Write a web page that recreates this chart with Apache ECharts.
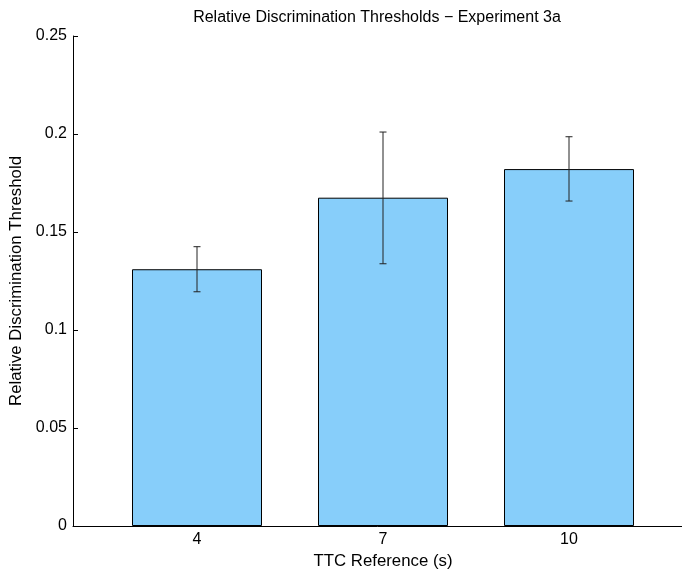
<!DOCTYPE html>
<html><head><meta charset="utf-8">
<script src="https://cdn.jsdelivr.net/npm/echarts@6/dist/echarts.min.js"></script>
<style>html,body{margin:0;padding:0;background:#fff}#c{width:682px;height:569px}</style>
</head><body><div id="c"></div>
<script>
const categories = ['4', '7', '10'];
const thresholds = [0.131, 0.1675, 0.1821];
const errLow = [0.1195, 0.1338, 0.1658];
const errHigh = [0.1425, 0.201, 0.1986];
const yTicks = [0, 0.05, 0.1, 0.15, 0.2, 0.25];

const chart = echarts.init(document.getElementById('c'), null, {renderer: 'canvas'});
const font = 'Liberation Sans, Arial, Helvetica, sans-serif';
const barData = categories.map((c, i) => [i + 1, thresholds[i]]);
const errData = categories.map((c, i) => [i + 1, errLow[i], errHigh[i]]);

chart.setOption({
  animation: false,
  title: {
    text: 'Relative Discrimination Thresholds \u2212 Experiment 3a',
    left: 377, top: 10, padding: 0, textAlign: 'center',
    textStyle: {fontFamily: font, fontWeight: 'normal', fontSize: 16, color: '#000'}
  },
  grid: {left: 73, top: 36, width: 620, height: 490, containLabel: false, outerBoundsMode: 'none'},
  xAxis: {
    type: 'value', min: 1/3, max: 11/3,
    name: 'TTC Reference (s)', nameLocation: 'middle', nameGap: 21,
    nameTextStyle: {fontFamily: font, fontSize: 16.8, color: '#000'},
    axisLine: {show: true, lineStyle: {color: '#000', width: 1}},
    axisTick: {show: false},
    splitLine: {show: false},
    axisLabel: {
      fontFamily: font, fontSize: 16, color: '#000', margin: 6,
      customValues: [1, 2, 3],
      formatter: v => categories[Math.round(v) - 1] || ''
    }
  },
  yAxis: {
    type: 'value', min: 0, max: 0.25, interval: 0.05,
    name: 'Relative Discrimination Threshold', nameLocation: 'middle', nameGap: 45,
    nameTextStyle: {fontFamily: font, fontSize: 16.8, color: '#000'},
    axisLine: {show: true, lineStyle: {color: '#000', width: 1}},
    axisTick: {show: true, inside: true, length: 5, lineStyle: {color: '#000'}},
    splitLine: {show: false},
    axisLabel: {fontFamily: font, fontSize: 16, color: '#000', margin: 6,
      customValues: yTicks,
      formatter: v => String(+v.toFixed(2))}
  },
  series: [
    {
      type: 'bar', data: barData, barWidth: 130,
      itemStyle: {color: '#87cefa', borderColor: '#000', borderWidth: 1}
    },
    {
      type: 'custom', data: errData, z: 10,
      renderItem: function (params, api) {
        const x = api.value(0);
        const lo = api.coord([x, api.value(1)]);
        const hi = api.coord([x, api.value(2)]);
        const cap = 3.5;
        const st = {stroke: '#222', lineWidth: 1};
        return {type: 'group', children: [
          {type: 'line', shape: {x1: lo[0], y1: lo[1], x2: hi[0], y2: hi[1]}, style: st},
          {type: 'line', shape: {x1: lo[0] - cap, y1: lo[1], x2: lo[0] + cap, y2: lo[1]}, style: st},
          {type: 'line', shape: {x1: hi[0] - cap, y1: hi[1], x2: hi[0] + cap, y2: hi[1]}, style: st}
        ]};
      }
    }
  ]
});
</script></body></html>
